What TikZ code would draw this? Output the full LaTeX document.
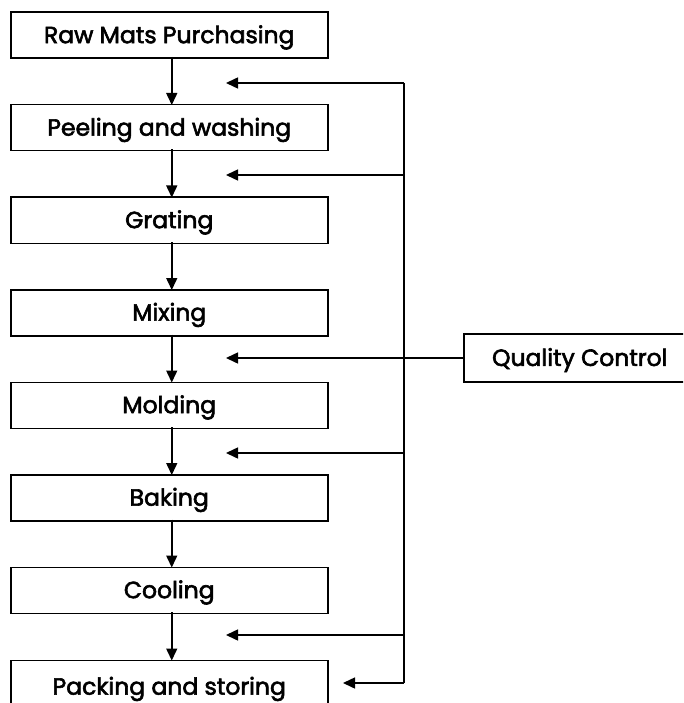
\documentclass[tikz,border=0pt]{standalone}
\usepackage{fontspec}
\setmainfont{Poppins}[UprightFeatures={FakeBold=2.5}]
\usetikzlibrary{arrows.meta}
\begin{document}
\begin{tikzpicture}[x=1pt,y=-1pt,
  stepbox/.style={draw,line width=1.5pt,minimum width=317pt,minimum height=46pt,inner sep=0pt,font=\fontsize{23.5}{25}\selectfont,text depth=0pt,anchor=north west},
  flow/.style={line width=1.5pt,-{Triangle[length=12pt,width=11pt]}},
  fb/.style={line width=1.5pt,-{Triangle[length=12pt,width=11pt]}}]
\useasboundingbox (0,0) rectangle (683,703);
\clip (0,0) rectangle (683,703);
\node[stepbox] (b1) at (10,11.5) {\raisebox{2pt}{Raw Mats Purchasing}};
\node[stepbox] (b2) at (10,104) {\raisebox{2pt}{Peeling and washing}};
\node[stepbox] (b3) at (10,196.5) {\raisebox{2pt}{Grating}};
\node[stepbox] (b4) at (10,289) {\raisebox{2pt}{Mixing}};
\node[stepbox] (b5) at (10,381.5) {\raisebox{2pt}{Molding}};
\node[stepbox] (b6) at (10,474) {\raisebox{2pt}{Baking}};
\node[stepbox] (b7) at (10,566.5) {\raisebox{2pt}{Cooling}};
\node[stepbox,minimum height=60pt] (b8) at (10,659.5) {\raisebox{9pt}{Packing and storing}};
\node[stepbox,minimum width=232pt,minimum height=48pt,anchor=west] (qc) at (463,358) {\raisebox{2pt}{Quality Control}};
\foreach \a/\b in {b1/b2,b2/b3,b3/b4,b4/b5,b5/b6,b6/b7,b7/b8}
  \draw[flow] ([xshift=2.5pt,yshift=2pt]\a.south) -- ([xshift=2.5pt,yshift=-1pt]\b.north);
\coordinate (t1) at (404,83);
\coordinate (t2) at (404,175);
\coordinate (t5) at (404,453);
\coordinate (t7) at (404,635);
\coordinate (t8) at (404,683);
\draw[line width=1.5pt] (t1) -- (t8);
\draw[fb] (t1) -- (226,83);
\draw[fb] (t2) -- (226,175);
\draw[fb] (qc.west) -- (226,358);
\draw[fb] (t5) -- (226,453);
\draw[fb] (t7) -- (226,635);
\draw[fb] (t8) -- (343,683);
\end{tikzpicture}
\end{document}
